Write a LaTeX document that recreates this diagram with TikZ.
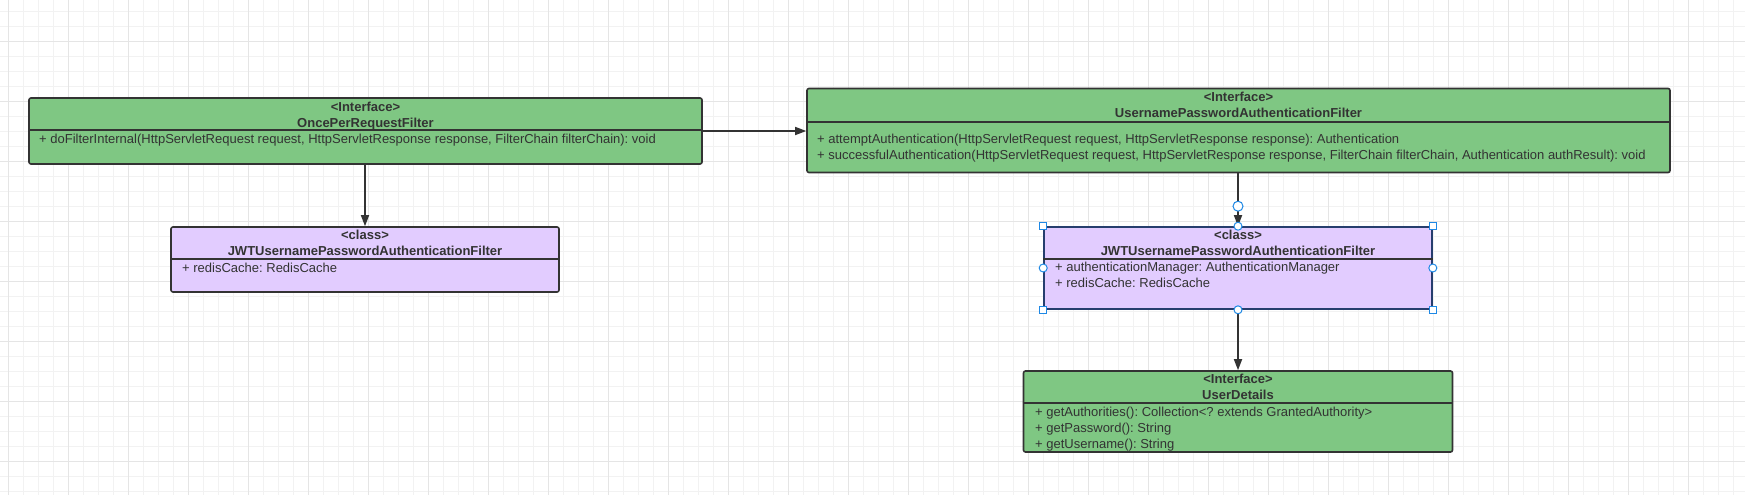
\documentclass[tikz,border=0pt]{standalone}
\usepackage{xcolor}
\usepackage{fontspec}
\setmainfont{Liberation Sans}
\usepackage{tikz}
\usetikzlibrary{arrows.meta,backgrounds,fit,positioning,calc,shapes}
\definecolor{ifacegreen}{RGB}{127,199,131}
\definecolor{classpurple}{RGB}{226,204,255}
\definecolor{boxline}{RGB}{51,51,51}
\definecolor{selline}{RGB}{38,62,110}
\definecolor{handleblue}{RGB}{30,136,229}
\definecolor{gridminor}{RGB}{242,242,242}
\definecolor{gridmajor}{RGB}{229,229,229}
\frenchspacing

\tikzset{
  umlbox/.style={draw=boxline, line width=1.6pt, rounded corners=2pt, inner sep=0pt},
  iface/.style={umlbox, fill=ifacegreen},
  klass/.style={umlbox, fill=classpurple},
  sepline/.style={draw=boxline, line width=1.6pt},
  headtext/.style={anchor=base, inner sep=0pt, text=boxline, font=\fontsize{13pt}{16pt}\selectfont\bfseries},
  membertext/.style={anchor=base west, inner sep=0pt, text=boxline, font=\fontsize{13pt}{16pt}\selectfont},
  conn/.style={draw=boxline, line width=1.6pt, -{Triangle[length=11pt,width=8pt]}},
  handlesq/.style={draw=handleblue, fill=white, line width=1pt, minimum size=7pt, inner sep=0pt},
  handlecirc/.style={circle, draw=handleblue, fill=white, line width=1pt, minimum size=8pt, inner sep=0pt}
}

\begin{document}
\begin{tikzpicture}[x=1pt,y=-1pt]
\fill[white] (0,0) rectangle (1745,495);
\useasboundingbox (0,0) rectangle (1745,495);
\foreach \gx in {8.3,23.3,...,1745} \draw[gridminor, line width=1pt] (\gx,0) -- (\gx,495);
\foreach \gy in {11.7,26.7,...,495} \draw[gridminor, line width=1pt] (0,\gy) -- (1745,\gy);
\foreach \gx in {8.3,68.3,...,1745} \draw[gridmajor, line width=1pt] (\gx,0) -- (\gx,495);
\foreach \gy in {41.7,101.7,...,495} \draw[gridmajor, line width=1pt] (0,\gy) -- (1745,\gy);

\node[iface, minimum width=673pt, minimum height=66pt] (oncefilter) at (365.5,131) {};
\draw[sepline] ($(oncefilter.north west)+(0,33)$) -- ($(oncefilter.north east)+(0,33)$);
\node[headtext] (oncestereo) at (365.5,111) {<Interface>};
\node[headtext] (oncename) at (365.5,127) {OncePerRequestFilter};
\node[membertext] (oncedofilter) at (39,143) {+ doFilterInternal(HttpServletRequest request, HttpServletResponse response, FilterChain filterChain): void};

\node[klass, minimum width=388pt, minimum height=65pt] (jwtfilter) at (365,259.5) {};
\draw[sepline] ($(jwtfilter.north west)+(0,33)$) -- ($(jwtfilter.north east)+(0,33)$);
\node[headtext] (jwtstereo) at (365,239) {<class>};
\node[headtext] (jwtname) at (365,255) {JWTUsernamePasswordAuthenticationFilter};
\node[membertext] (jwtcache) at (182,272) {+ redisCache: RedisCache};

\node[iface, minimum width=863pt, minimum height=84pt] (upfilter) at (1238.5,130.5) {};
\draw[sepline] ($(upfilter.north west)+(0,34)$) -- ($(upfilter.north east)+(0,34)$);
\node[headtext] (upstereo) at (1238.5,101) {<Interface>};
\node[headtext] (upname) at (1238.5,117) {UsernamePasswordAuthenticationFilter};
\node[membertext] (upattempt) at (817,143) {+ attemptAuthentication(HttpServletRequest request, HttpServletResponse response): Authentication};
\node[membertext] (upsuccess) at (817,159) {+ successfulAuthentication(HttpServletRequest request, HttpServletResponse response, FilterChain filterChain, Authentication authResult): void};

\node[klass, draw=selline, minimum width=388pt, minimum height=82pt] (jwtfilterb) at (1238,268) {};
\draw[sepline] ($(jwtfilterb.north west)+(0,33)$) -- ($(jwtfilterb.north east)+(0,33)$);
\node[headtext] (jwtbstereo) at (1238,239) {<class>};
\node[headtext] (jwtbname) at (1238,255) {JWTUsernamePasswordAuthenticationFilter};
\node[membertext] (jwtbmanager) at (1055,271) {+ authenticationManager: AuthenticationManager};
\node[membertext] (jwtbcache) at (1055,287) {+ redisCache: RedisCache};

\node[iface, minimum width=429pt, minimum height=81pt] (userdetails) at (1238,411.5) {};
\draw[sepline] ($(userdetails.north west)+(0,33)$) -- ($(userdetails.north east)+(0,33)$);
\node[headtext] (udstereo) at (1238,383) {<Interface>};
\node[headtext] (udname) at (1238,399) {UserDetails};
\node[membertext] (udauth) at (1035,416) {+ getAuthorities(): Collection<? extends GrantedAuthority>};
\node[membertext] (udpass) at (1035,432) {+ getPassword(): String};
\node[membertext] (uduser) at (1035,448) {+ getUsername(): String};

\draw[conn] (jwtfilter.north |- oncefilter.south) -- (jwtfilter.north);
\draw[conn] (oncefilter.east) -- (upfilter.west |- oncefilter.east);
\draw[conn] (jwtfilterb.north |- upfilter.south) -- (jwtfilterb.north);
\draw[conn] (jwtfilterb.south) -- (userdetails.north);

\node[handlesq] (selnw) at (jwtfilterb.north west) {};
\node[handlesq] (selne) at (jwtfilterb.north east) {};
\node[handlesq] (selsw) at (jwtfilterb.south west) {};
\node[handlesq] (selse) at (jwtfilterb.south east) {};
\node[handlecirc] (seln) at (jwtfilterb.north) {};
\node[handlecirc] (sels) at (jwtfilterb.south) {};
\node[handlecirc] (selw) at (jwtfilterb.west) {};
\node[handlecirc] (sele) at (jwtfilterb.east) {};
\node[handlecirc, minimum size=10pt] (connend) at ($(jwtfilterb.north)+(0,-20)$) {};
\end{tikzpicture}
\end{document}
